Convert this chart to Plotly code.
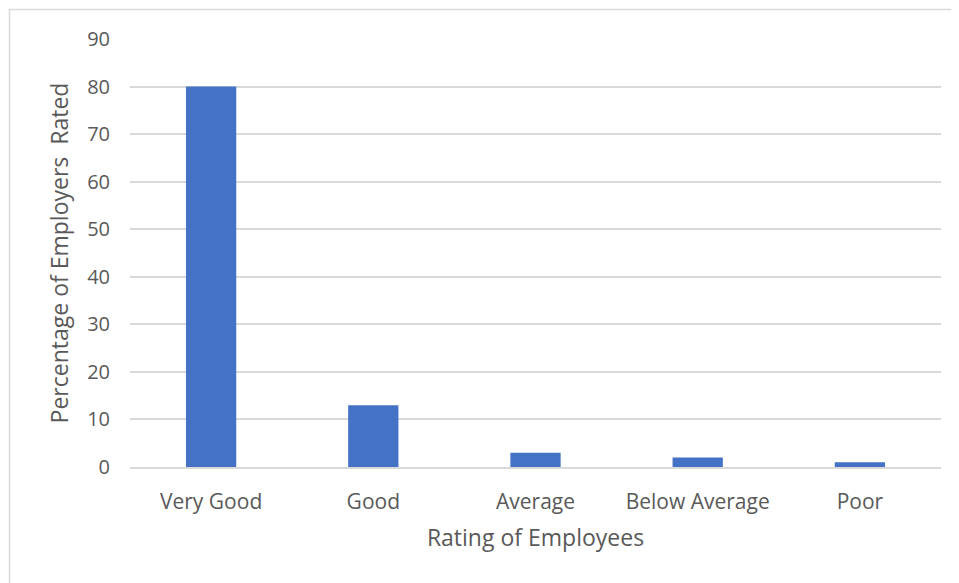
import plotly.graph_objects as go

categories = ["Very Good", "Good", "Average", "Below Average", "Poor"]
values = [80, 13, 3, 2, 1]
y_ticks = [0, 10, 20, 30, 40, 50, 60, 70, 80, 90]

OFF = 8  # page body margin
W, H = 959 - OFF, 583 - OFF
L, R, T, B = 130 - OFF, 18, 39 - OFF, 116
pw, ph = W - L - R, H - T - B

def px_to_paper_x(px):
    return (px - OFF - L) / pw

def px_to_paper_y(py):
    return (H - B - (py - OFF)) / ph

FAM = "Open Sans"
COL = "#595959"

fig = go.Figure(go.Bar(x=categories, y=values, marker=dict(color="#4472c4", line=dict(width=0))))

fig.update_layout(
    width=W, height=H,
    margin=dict(l=L, r=R, t=T, b=B),
    paper_bgcolor="white", plot_bgcolor="white",
    font=dict(family=FAM, size=20, color=COL),
    bargap=0.69,
    showlegend=False,
    shapes=[dict(type="rect", xref="paper", yref="paper",
                 x0=px_to_paper_x(9.5), x1=px_to_paper_x(985),
                 y0=px_to_paper_y(610), y1=px_to_paper_y(9.5),
                 line=dict(color="#d9d9d9", width=1.5), layer="below")],
)
fig.update_xaxes(showgrid=False, showline=True, linecolor="#d9d9d9", linewidth=1.5,
                 ticks="outside", ticklen=15, tickcolor="rgba(0,0,0,0)",
                 tickfont=dict(family=FAM, size=21, color=COL),
                 title=dict(text="Rating of Employees", standoff=16,
                            font=dict(family=FAM, size=23, color=COL)))
fig.update_yaxes(range=[0, 90], tickvals=y_ticks, showgrid=True, gridcolor="#d9d9d9", gridwidth=1.5,
                 zeroline=False, showline=False,
                 ticks="outside", ticklen=15, tickcolor="rgba(0,0,0,0)",
                 tickfont=dict(family=FAM, size=20, color=COL),
                 title=dict(text="Percentage of Employers\u00a0 Rated", standoff=12,
                            font=dict(family=FAM, size=23, color=COL)))

fig.write_html("out.html")
